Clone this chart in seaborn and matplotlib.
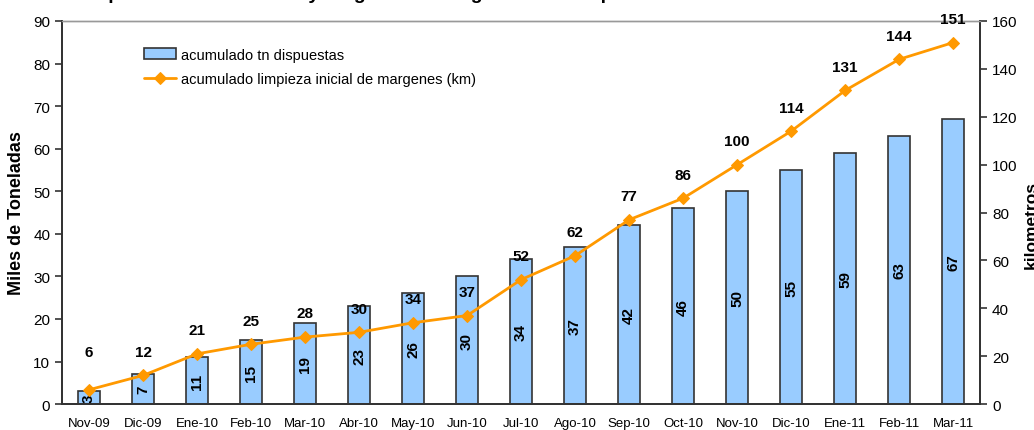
import numpy as np
import pandas as pd
import seaborn as sns
import matplotlib.pyplot as plt

# data
meses = ['Nov-09', 'Dic-09', 'Ene-10', 'Feb-10', 'Mar-10', 'Abr-10', 'May-10', 'Jun-10', 'Jul-10',
         'Ago-10', 'Sep-10', 'Oct-10', 'Nov-10', 'Dic-10', 'Ene-11', 'Feb-11', 'Mar-11']
tn_dispuestas = [3, 7, 11, 15, 19, 23, 26, 30, 34, 37, 42, 46, 50, 55, 59, 63, 67]
km_limpieza = [6, 12, 21, 25, 28, 30, 34, 37, 52, 62, 77, 86, 100, 114, 131, 144, 151]

titulo = 'Disposición de residuos y longitud de margenes con limpieza inicial'
etiqueta_barras = 'acumulado tn dispuestas'
etiqueta_linea = 'acumulado limpieza inicial de margenes (km)'

df = pd.DataFrame({'mes': meses, 'tn': tn_dispuestas, 'km': km_limpieza})
df['pos'] = np.arange(len(df))

sns.set_style('white')
plt.rcParams['font.family'] = ['Liberation Sans', 'DejaVu Sans']
plt.rcParams['text.color'] = 'black'
plt.rcParams['axes.labelcolor'] = 'black'
plt.rcParams['xtick.color'] = 'black'
plt.rcParams['ytick.color'] = 'black'

fig = plt.figure(figsize=(10.34, 4.31), dpi=100)
ax = fig.add_axes([0.060, 0.060, 0.888, 0.889])

# bars (miles de toneladas)
sns.barplot(data=df, x='mes', y='tn', ax=ax, color='#99CCFF', saturation=1,
            width=0.41, edgecolor='#333333', linewidth=1.2, label=etiqueta_barras)
ax.bar_label(ax.containers[0], label_type='center', rotation=90,
             fontsize=11, fontweight='bold', color='black')

ax.set_ylim(0, 90)
ax.set_yticks(range(0, 91, 10))
ax.set_xlim(-0.5, len(df) - 0.5)
ax.set_xticks(df['pos'])
ax.set_xticklabels(meses, fontsize=9.5)
ax.set_xticks(np.arange(-0.5, len(df), 1), minor=True)
ax.tick_params(axis='x', which='major', length=0, pad=9)
ax.tick_params(axis='x', which='minor', length=5, width=1.2, direction='out', color='#333333')
ax.tick_params(axis='y', length=5, width=1.2, direction='out', labelsize=11, color='#333333')
ax.set_xlabel('')
ax.set_ylabel('Miles de Toneladas', fontsize=13, fontweight='bold')
ax.yaxis.set_label_coords(-0.040, 0.5)

# line (kilometros) on the second axis
ax2 = ax.twinx()
sns.lineplot(data=df, x='pos', y='km', ax=ax2, color='#FF9900', linewidth=2,
             marker='D', markersize=6.5, markeredgecolor='#FF9900', label=etiqueta_linea)
ax2.set_ylim(0, 160)
ax2.set_yticks(range(0, 161, 20))
ax2.tick_params(axis='y', length=5, width=1.2, direction='out', labelsize=11, color='#333333')
ax2.set_ylabel('')
ax2.set_xlabel('')

for i, (p, v) in enumerate(zip(df['pos'], df['km'])):
    lift = 27 if i == 0 else 17
    ax2.annotate(str(v), (p, v), xytext=(0, lift), textcoords='offset points',
                 ha='center', va='center', fontsize=11, fontweight='bold')

# right axis title sits half outside the canvas, as in the original
fig.text(1024 / 1034, 0.478, 'kilometros', rotation=90, ha='left', va='center',
         fontsize=12.5, fontweight='bold')

for a in (ax, ax2):
    for side in ('left', 'right', 'bottom'):
        a.spines[side].set_color('#333333')
        a.spines[side].set_linewidth(1.3)
    a.spines['top'].set_color('#999999')
    a.spines['top'].set_linewidth(1.0)

# legend
h1, l1 = ax.get_legend_handles_labels()
h2, l2 = ax2.get_legend_handles_labels()
if ax2.get_legend():
    ax2.get_legend().remove()
if ax.get_legend():
    ax.get_legend().remove()
ax2.legend(h1 + h2, l1 + l2, loc='upper left', bbox_to_anchor=(0.075, 0.965),
           frameon=False, fontsize=10.5, handlelength=2.2, handletextpad=0.35,
           labelspacing=0.75)

# title runs above the canvas in the original, only its descenders show
fig.text(0.075, 1.003, titulo, ha='left', va='baseline', fontsize=14, fontweight='bold')

fig.savefig('out.png', dpi=100)
